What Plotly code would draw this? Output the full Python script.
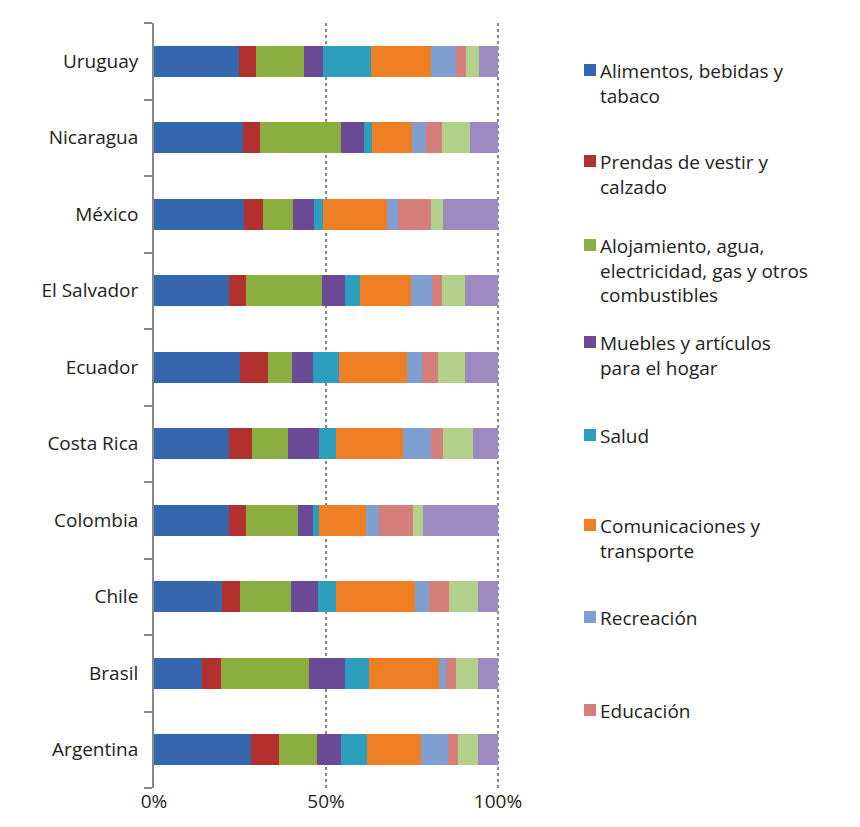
import plotly.graph_objects as go

countries = ["Argentina","Brasil","Chile","Colombia","Costa Rica","Ecuador","El Salvador","México","Nicaragua","Uruguay"]
series_names = ["Alimentos, bebidas y tabaco","Prendas de vestir y calzado",
                "Alojamiento, agua, electricidad, gas y otros combustibles",
                "Muebles y artículos para el hogar","Salud","Comunicaciones y transporte",
                "Recreación","Educación","Restaurantes y hoteles","Otros"]
legend_labels = ["Alimentos, bebidas y<br>tabaco","Prendas de vestir y<br>calzado",
                 "Alojamiento, agua,<br>electricidad, gas y otros<br>combustibles",
                 "Muebles y artículos<br>para el hogar","Salud","Comunicaciones y<br>transporte",
                 "Recreación","Educación"]
alimentos   = [28.3,14.0,19.9,21.8,21.8,24.9,21.8,26.3,25.9,24.8]
prendas     = [8.1,5.6,5.2,4.9,6.8,8.1,4.9,5.3,4.9,4.8]
alojamiento = [10.9,25.5,14.7,15.3,10.4,7.2,22.1,8.9,23.6,13.9]
muebles     = [7.1,10.4,7.9,4.1,9.1,5.9,6.6,6.0,6.7,5.6]
salud       = [7.5,7.1,5.2,2.0,4.8,7.6,4.5,2.6,2.3,13.9]
comunic     = [15.8,20.3,22.9,13.6,19.6,19.9,14.9,18.5,11.6,17.4]
recreacion  = [7.9,2.1,4.1,3.8,7.9,4.4,5.9,3.3,4.1,7.3]
educacion   = [2.9,2.8,5.9,9.8,3.6,4.5,2.9,9.7,4.5,3.1]
restaur     = [5.7,6.4,8.4,3.0,8.6,7.9,6.8,3.4,8.2,3.7]
otros       = [5.8,5.8,5.8,21.7,7.4,9.6,9.6,16.0,8.2,5.5]
values = [alimentos,prendas,alojamiento,muebles,salud,comunic,recreacion,educacion,restaur,otros]
colors = ["#3566AE","#B2312E","#8AAE3F","#6A4A94","#2C9FBE","#EE7F24","#7F9FD3","#D47F7A","#B3D08A","#9C8AC0"]

fig = go.Figure()
for n, v, c in zip(series_names, values, colors):
    fig.add_trace(go.Bar(y=countries, x=v, name=n, orientation="h", marker=dict(color=c, line_width=0),
                         showlegend=False))

W, H = 860, 827
legend_y = [62, 153, 237, 334, 427, 517, 609, 702]
for lab, c, py in zip(legend_labels, colors, legend_y):
    fig.add_shape(type="rect", xref="paper", yref="paper",
                  x0=(583-153)/345, x1=(595-153)/345,
                  y0=1-(py+6-15)/765, y1=1-(py-6-15)/765, fillcolor=c, line_width=0)
    fig.add_annotation(xref="paper", yref="paper", x=(597-153)/345, y=1-(py-14-15)/765,
                       text=lab, showarrow=False, xanchor="left", yanchor="top", align="left",
                       font=dict(size=19, family="Open Sans", color="#222"))

fig.update_layout(
    width=W, height=H, barmode="stack", barnorm="percent", bargap=0.6,
    margin=dict(l=146, r=369, t=15, b=47),
    plot_bgcolor="white", paper_bgcolor="white",
    font=dict(family="Open Sans", size=19, color="#222"),
    xaxis=dict(range=[0,100.3], tickvals=[0,50,100], ticktext=["0%","50%","100%"],
               showgrid=True, gridcolor="#888", griddash="dot", gridwidth=1.5, zeroline=False,
               showline=False, ticks="", automargin=False),
    yaxis=dict(showline=True, linecolor="#888", linewidth=2, ticks="outside", tickson="boundaries",
               ticklen=8, tickcolor="#888", tickwidth=2, showgrid=False, categoryorder="array",
               categoryarray=countries, ticksuffix="  ", automargin=False),
)
fig.write_html("out.html")
